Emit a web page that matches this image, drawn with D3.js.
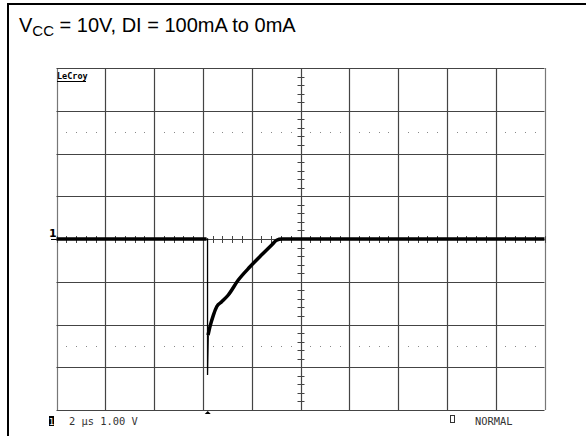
<!DOCTYPE html>
<html><head><meta charset="utf-8">
<script src="https://cdn.jsdelivr.net/npm/d3@7"></script>
<style>
html,body{margin:0;padding:0;background:#fff;}
svg{display:block;}
</style></head>
<body>
<svg id="c" width="586" height="436"></svg>
<script>
// ---- data ----
const titleMain = "V";
const titleSub = "CC";
const titleRest = " = 10V, DI = 100mA to 0mA";
const timeGrid = [0, 2, 4, 6, 8, 10, 12, 14, 16, 18, 20];      // µs (2 µs/div)
const voltGrid = [-4, -3, -2, -1, 0, 1, 2, 3, 4];               // V (1 V/div)
const dottedLevels = [2.5, -2.5];
// fast fall (thin) : time (µs) and voltage (V)
const spikeT = [6.15, 6.19, 6.19, 6.22];
const spikeV = [0, 0, -3.18, -2.25];
// baseline before the step
const preT = [0, 6.15];
const preV = [0, 0];
// recovery after the step
const recT = [6.21, 6.29, 6.43, 6.57, 6.77, 7.04, 7.45, 7.93, 8.41, 8.82, 9.02, 9.23, 20];
const recV = [-2.25, -2.05, -1.78, -1.58, -1.47, -1.31, -0.96, -0.65, -0.37, -0.14, -0.03, 0, 0];
const triggerT = 6.2;
const footerLeft = "2 \u00b5s 1.00 V";
const footerRight = "NORMAL";
const brand = "LeCroy";

// ---- drawing ----
const svg = d3.select("#c");
const x = d3.scaleLinear().domain([0, 20]).range([56.5, 544.5]);
const y = d3.scaleLinear().domain([-4, 4]).range([410, 68]);
const px = v => Math.round(x(v)) + 0.5;
const py = v => Math.round(y(v)) + 0.5;

// outer frame
svg.append("line").attr("x1", 8).attr("x2", 586).attr("y1", 4).attr("y2", 4).attr("stroke", "#000").attr("stroke-width", 2);
svg.append("line").attr("x1", 8).attr("x2", 8).attr("y1", 3).attr("y2", 436).attr("stroke", "#000").attr("stroke-width", 2);

// title
const tt = svg.append("text").attr("x", 19).attr("y", 32).attr("font-family", "Arial, 'Liberation Sans', sans-serif").attr("font-size", 20).attr("fill", "#000");
tt.append("tspan").text(titleMain);
tt.append("tspan").attr("font-size", 15).attr("dy", 4).text(titleSub);
tt.append("tspan").attr("dy", -4).text(titleRest);

const g = svg.append("g");
// grid lines
g.selectAll(".vg").data(timeGrid).join("line")
  .attr("x1", d => px(d)).attr("x2", d => px(d)).attr("y1", y(4)).attr("y2", y(-4))
  .attr("stroke", (d, i) => (i === 0 || i === timeGrid.length - 1) ? "#777" : "#444").attr("stroke-width", 1.2);
g.selectAll(".hg").data(voltGrid).join("line")
  .attr("x1", x(0)).attr("x2", x(20)).attr("y1", d => py(d)).attr("y2", d => py(d))
  .attr("stroke", "#444").attr("stroke-width", 1.2);

// dotted guide levels
const dotT = d3.range(0, 20.001, 0.4).filter(t => Math.abs(t / 2 - Math.round(t / 2)) > 0.01);
dottedLevels.forEach(lv => {
  g.selectAll(null).data(dotT).join("rect")
    .attr("x", d => Math.round(x(d))).attr("y", Math.round(y(lv)))
    .attr("width", 1).attr("height", 1).attr("fill", "#888");
});

// center axis minor ticks
const minorT = d3.range(0, 20.001, 0.4);
g.selectAll(".mt").data(minorT).join("line")
  .attr("x1", d => px(d)).attr("x2", d => px(d)).attr("y1", y(0) - 3).attr("y2", y(0) + 4)
  .attr("stroke", "#444").attr("stroke-width", 1);
const minorV = d3.range(-4, 4.001, 0.2);
g.selectAll(".mv").data(minorV).join("line")
  .attr("x1", x(10) - 3).attr("x2", x(10) + 4).attr("y1", d => py(d)).attr("y2", d => py(d))
  .attr("stroke", "#444").attr("stroke-width", 1);

// brand
svg.append("text").attr("x", 57).attr("y", 79).attr("font-family", "'DejaVu Sans Mono', monospace").attr("font-weight", "bold")
  .attr("font-size", 8.5).attr("fill", "#000").text(brand);
svg.append("line").attr("x1", 57).attr("x2", 86).attr("y1", 81.5).attr("y2", 81.5).attr("stroke", "#000").attr("stroke-width", 1);

// ground marker
svg.append("text").attr("x", 49).attr("y", 237).attr("font-family", "'DejaVu Sans', sans-serif").attr("font-weight", "bold")
  .attr("font-size", 11).attr("fill", "#000").text("1");
svg.append("line").attr("x1", 51).attr("x2", x(0)).attr("y1", py(0)).attr("y2", py(0)).attr("stroke", "#000");

// trace
const line = d3.line().x(d => x(d[0])).y(d => y(d[1]));
svg.append("path").datum(spikeT.map((t, i) => [t, spikeV[i]])).attr("d", line)
  .attr("fill", "none").attr("stroke", "#000").attr("stroke-width", 1.3);
svg.append("path").datum(preT.map((t, i) => [t, preV[i]])).attr("d", line)
  .attr("fill", "none").attr("stroke", "#000").attr("stroke-width", 3.5);
svg.append("path").datum(recT.map((t, i) => [t, recV[i]])).attr("d", d3.line().curve(d3.curveMonotoneX).x(d => x(d[0])).y(d => y(d[1])))
  .attr("fill", "none").attr("stroke", "#000").attr("stroke-width", 3.5).attr("stroke-linejoin", "round");

// trigger marker
const tx = x(triggerT);
svg.append("path").attr("d", `M${tx - 3},${y(-4) + 4} L${tx + 3},${y(-4) + 4} L${tx},${y(-4) + 1} Z`).attr("fill", "#000");

// footer
svg.append("rect").attr("x", 49).attr("y", 416).attr("width", 5).attr("height", 10).attr("fill", "#000");
svg.append("text").attr("x", 51.5).attr("y", 425).attr("text-anchor", "middle").attr("font-family", "'DejaVu Sans Mono', monospace")
  .attr("font-size", 9).attr("fill", "#fff").text("1");
svg.append("text").attr("x", 69).attr("y", 425).attr("font-family", "'DejaVu Sans Mono', monospace")
  .attr("font-size", 10.4).attr("fill", "#333").text(footerLeft);
svg.append("rect").attr("x", 450.5).attr("y", 415.5).attr("width", 4).attr("height", 7).attr("fill", "none").attr("stroke", "#333");
svg.append("text").attr("x", 475).attr("y", 425).attr("font-family", "'DejaVu Sans Mono', monospace")
  .attr("font-size", 10.4).attr("fill", "#333").text(footerRight);
</script>
</body></html>
